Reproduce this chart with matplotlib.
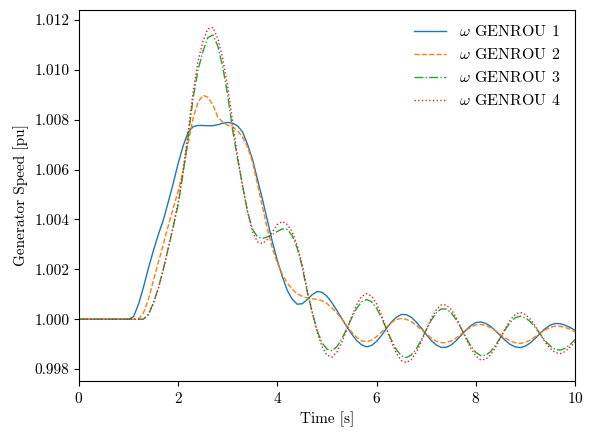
import numpy as np
import matplotlib
matplotlib.use("Agg")
import matplotlib.pyplot as plt
from matplotlib.ticker import FormatStrFormatter

plt.rcParams['font.family'] = 'serif'
plt.rcParams['font.serif'] = ['cmr10']
plt.rcParams['mathtext.fontset'] = 'cm'
plt.rcParams['axes.formatter.use_mathtext'] = True
plt.rcParams['font.size'] = 11

# sample times [s]: 0, then 1.0 ... 10.0 every 0.1 s
t = np.concatenate([[0.0], np.round(np.arange(1.0, 10.01, 0.1), 1)])

# speed deviations, in 1e-3 pu (omega = 1 + dev/1000)
dev_g1 = [0, 0, 0.1, 0.6, 1.28, 2.05, 2.75, 3.4, 3.97, 4.7, 5.45,
          6.25, 6.95, 7.5, 7.72, 7.77, 7.77, 7.76, 7.76, 7.8, 7.86,
          7.89, 7.86, 7.75, 7.5, 7.0, 6.4, 5.6, 4.8, 3.95, 3.1,
          2.35, 1.7, 1.15, 0.8, 0.6, 0.62, 0.78, 0.98, 1.11, 1.08,
          0.92, 0.66, 0.35, 0.02, -0.3, -0.6, -0.86, -1.03, -1.11, -1.05,
          -0.89, -0.65, -0.37, -0.11, 0.08, 0.19, 0.18, 0.076, -0.115, -0.35,
          -0.61, -0.85, -1.03, -1.13, -1.13, -1.04, -0.87, -0.66, -0.44, -0.26,
          -0.14, -0.11, -0.17, -0.29, -0.47, -0.67, -0.86, -1.02, -1.115, -1.14,
          -1.08, -0.95, -0.77, -0.56, -0.38, -0.24, -0.175, -0.18, -0.24, -0.33,
          -0.44]
dev_g2 = [0, 0, 0, 0, 0.25, 0.8, 1.55, 2.28, 3.0, 3.75, 4.45,
          5.15, 5.95, 7.05, 8.05, 8.7, 8.98, 8.9, 8.6, 8.1, 7.9,
          7.78, 7.7, 7.55, 7.3, 6.9, 6.3, 5.4, 4.5, 3.6, 2.85,
          2.25, 1.8, 1.45, 1.2, 1.02, 0.92, 0.85, 0.82, 0.8, 0.74,
          0.63, 0.45, 0.25, 0.0, -0.27, -0.52, -0.73, -0.87, -0.91, -0.84,
          -0.7, -0.51, -0.31, -0.135, -0.013, 0.03, -0.004, -0.1, -0.24, -0.415,
          -0.59, -0.75, -0.88, -0.94, -0.94, -0.876, -0.76, -0.6, -0.45, -0.32,
          -0.23, -0.21, -0.25, -0.34, -0.47, -0.62, -0.76, -0.88, -0.95, -0.97,
          -0.93, -0.835, -0.7, -0.56, -0.43, -0.33, -0.28, -0.285, -0.33, -0.4,
          -0.5]
dev_g3 = [0, 0, 0, 0, 0.0, 0.2, 0.65, 1.25, 2.0, 2.85, 3.7,
          4.6, 5.85, 7.3, 8.85, 10.0, 10.75, 11.3, 11.4, 10.95, 10.1,
          8.95, 7.55, 6.4, 5.35, 4.3, 3.6, 3.3, 3.24, 3.3, 3.4,
          3.52, 3.62, 3.6, 3.35, 2.85, 2.1, 1.1, 0.3, -0.45, -0.95,
          -1.2, -1.265, -1.105, -0.78, -0.375, 0.055, 0.44, 0.7, 0.79, 0.7,
          0.44, 0.056, -0.4, -0.84, -1.22, -1.47, -1.54, -1.44, -1.195, -0.836,
          -0.43, -0.05, 0.245, 0.41, 0.41, 0.27, -0.007, -0.35, -0.73, -1.07,
          -1.33, -1.46, -1.445, -1.3, -1.04, -0.725, -0.4, -0.12, 0.065, 0.12,
          0.055, -0.1, -0.335, -0.6, -0.87, -1.07, -1.21, -1.24, -1.17, -1.02,
          -0.81]
dev_g4 = [0, 0, 0, 0, 0.0, 0.18, 0.62, 1.22, 1.98, 2.85, 3.75,
          4.7, 6.0, 7.5, 9.1, 10.35, 11.15, 11.65, 11.7, 11.25, 10.45,
          9.3, 7.9, 6.5, 5.3, 4.3, 3.5, 3.1, 3.03, 3.2, 3.5,
          3.8, 3.92, 3.8, 3.5, 2.95, 2.2, 1.2, 0.3, -0.5, -1.1,
          -1.45, -1.52, -1.32, -0.92, -0.42, 0.118, 0.59, 0.915, 1.03, 0.92,
          0.615, 0.157, -0.38, -0.91, -1.37, -1.66, -1.74, -1.62, -1.33, -0.91,
          -0.43, 0.02, 0.37, 0.57, 0.57, 0.4, 0.077, -0.33, -0.77, -1.17,
          -1.47, -1.63, -1.61, -1.43, -1.12, -0.745, -0.35, -0.02, 0.2, 0.27,
          0.19, 0.0, -0.28, -0.6, -0.93, -1.17, -1.34, -1.38, -1.3, -1.12,
          -0.91]

labels = [r'$\omega$ GENROU 1', r'$\omega$ GENROU 2',
          r'$\omega$ GENROU 3', r'$\omega$ GENROU 4']
styles = ['-', '--', '-.', ':']

fig = plt.figure(figsize=(5.93, 4.36), dpi=100)
ax = fig.add_axes([0.1332, 0.1261, 0.8364, 0.8509])

for i, dev in enumerate([dev_g1, dev_g2, dev_g3, dev_g4]):
    omega = 1.0 + np.array(dev) / 1000.0
    ax.plot(t, omega, linestyle=styles[i], color='C%d' % i, lw=1.0, label=labels[i])

ax.set_xlim(0, 10)
ax.set_ylim(0.99752, 1.01240)
ax.set_yticks(np.arange(0.998, 1.0121, 0.002))
ax.yaxis.set_major_formatter(FormatStrFormatter('%.3f'))
ax.set_xlabel('Time [s]')
ax.set_ylabel('Generator Speed [pu]')
ax.legend(loc='upper right', frameon=False, fontsize=11.5)

plt.savefig('out.png', dpi=100)
